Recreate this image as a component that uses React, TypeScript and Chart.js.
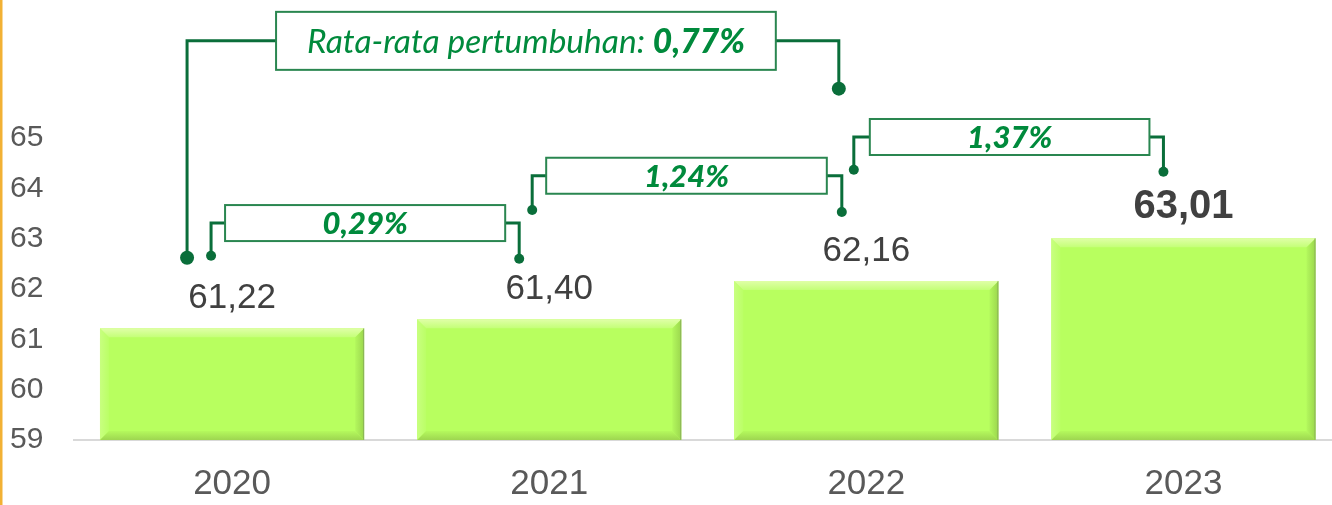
import React, { useEffect, useRef } from 'react';
import { Chart, registerables } from 'chart.js';

Chart.register(...registerables);

// ---- data ----
const years = ['2020', '2021', '2022', '2023'];
const values = [61.22, 61.4, 62.16, 63.01];
const valueLabels = ['61,22', '61,40', '62,16', '63,01'];
const yMin = 59;
const yMax = 65;
const growthLabels = ['0,29%', '1,24%', '1,37%'];
const avgGrowthText = 'Rata-rata pertumbuhan: ';
const avgGrowthValue = '0,77%';

// ---- styles ----
const GREEN_LINE = '#0A6E3A';
const GREEN_BOX = '#2A8650';
const GREEN_TEXT = '#008A3C';
const NUM_FONT = '"Liberation Sans", Arial, sans-serif';
const ANN_FONT = 'Lato, "Open Sans", sans-serif';

// annotation geometry: x as offsets from category centres, y in axis units
const pairLayout = [
  { from: 0, to: 1, dotL: -21, boxL: -7, boxR: -44, dotR: -30, boxY: 63.31, dotLY: 62.66, dotRY: 62.6 },
  { from: 1, to: 2, dotL: -17, boxL: -3, boxR: -39.5, dotR: -24.5, boxY: 64.25, dotLY: 63.57, dotRY: 63.53 },
  { from: 2, to: 3, dotL: -12.5, boxL: 3.5, boxR: -34, dotR: -20, boxY: 65.02, dotLY: 64.37, dotRY: 64.33 },
];
const avgLayout = { from: 0, to: 2, dotL: -45, boxL: 44, boxR: -90.5, dotR: -27.5, boxY: 66.93, dotLY: 62.62, dotRY: 65.98 };

function drawConnector(ctx: CanvasRenderingContext2D, x: number, yFrom: number, xBox: number, yDot: number, r: number) {
  ctx.beginPath();
  ctx.moveTo(xBox, yFrom);
  ctx.lineTo(x, yFrom);
  ctx.lineTo(x, yDot);
  ctx.stroke();
  ctx.beginPath();
  ctx.arc(x, yDot, r, 0, Math.PI * 2);
  ctx.fill();
}

const decorPlugin = {
  id: 'decor',
  beforeDraw(chart: any) {
    const ctx = chart.ctx;
    ctx.save();
    ctx.fillStyle = '#F2B134';
    ctx.fillRect(0, 0, 2.5, chart.height);
    ctx.restore();
  },
  afterDatasetsDraw(chart: any) {
    const ctx: CanvasRenderingContext2D = chart.ctx;
    const meta = chart.getDatasetMeta(0);
    const bottomLimit = chart.chartArea.bottom;
    ctx.save();
    meta.data.forEach((el: any, i: number) => {
      const { x, y, base, width } = el.getProps(['x', 'y', 'base', 'width'], true);
      const l = x - width / 2;
      const r = x + width / 2;
      const t = y;
      const b = Math.min(base, bottomLimit);
      const bv = 9;
      const poly = (pts: number[][], fill: string | CanvasGradient) => {
        ctx.beginPath();
        ctx.moveTo(pts[0][0], pts[0][1]);
        for (let k = 1; k < pts.length; k++) ctx.lineTo(pts[k][0], pts[k][1]);
        ctx.closePath();
        ctx.fillStyle = fill;
        ctx.fill();
      };
      const gl = ctx.createLinearGradient(l, 0, l + bv, 0);
      gl.addColorStop(0, '#C8FF80');
      gl.addColorStop(1, '#BBFF66');
      const gr = ctx.createLinearGradient(r, 0, r - bv, 0);
      gr.addColorStop(0, '#9BD64E');
      gr.addColorStop(1, '#B3F85D');
      const gb = ctx.createLinearGradient(0, b, 0, b - bv);
      gb.addColorStop(0, '#9ED650');
      gb.addColorStop(1, '#B4F95D');
      const gt = ctx.createLinearGradient(0, t, 0, t + bv);
      gt.addColorStop(0, '#E0FFA8');
      gt.addColorStop(1, '#C4FF78');
      poly([[l, t], [l + bv, t + bv], [l + bv, b - bv], [l, b]], gl);
      poly([[r, t], [r - bv, t + bv], [r - bv, b - bv], [r, b]], gr);
      poly([[l, b], [l + bv, b - bv], [r - bv, b - bv], [r, b]], gb);
      poly([[l, t], [r, t], [r - bv, t + bv], [l + bv, t + bv]], gt);
      ctx.strokeStyle = 'rgba(120,140,100,0.5)';
      ctx.lineWidth = 1;
      ctx.beginPath();
      ctx.moveTo(r - 0.5, t);
      ctx.lineTo(r - 0.5, b);
      ctx.stroke();

      // value label
      const bold = i === values.length - 1;
      ctx.fillStyle = '#404040';
      ctx.font = bold ? `bold 40px ${NUM_FONT}` : `35px ${NUM_FONT}`;
      ctx.textAlign = 'center';
      ctx.textBaseline = 'alphabetic';
      ctx.fillText(valueLabels[i], x, t - 20);
    });
    ctx.restore();
  },
  afterDraw(chart: any) {
    const ctx: CanvasRenderingContext2D = chart.ctx;
    const xs = chart.scales.x;
    const ys = chart.scales.y;
    const cx = (i: number) => xs.getPixelForValue(i);
    ctx.save();
    ctx.lineJoin = 'miter';

    const drawAnn = (lay: any, halfH: number, dotR: number, draw: (mx: number, my: number) => void) => {
      const xL = cx(lay.from);
      const xR = cx(lay.to);
      const bl = xL + lay.boxL;
      const br = xR + lay.boxR;
      const by = ys.getPixelForValue(lay.boxY);
      ctx.strokeStyle = GREEN_LINE;
      ctx.fillStyle = GREEN_LINE;
      ctx.lineWidth = 3;
      drawConnector(ctx, xL + lay.dotL, by, bl, ys.getPixelForValue(lay.dotLY), dotR);
      drawConnector(ctx, xR + lay.dotR, by, br, ys.getPixelForValue(lay.dotRY), dotR);
      ctx.fillStyle = '#FFFFFF';
      ctx.fillRect(bl, by - halfH, br - bl, halfH * 2);
      ctx.strokeStyle = GREEN_BOX;
      ctx.lineWidth = 2;
      ctx.strokeRect(bl, by - halfH, br - bl, halfH * 2);
      draw((bl + br) / 2, by);
    };

    pairLayout.forEach((lay, k) => {
      drawAnn(lay, 18, 5, (mx, my) => {
        ctx.fillStyle = GREEN_TEXT;
        ctx.font = `italic 900 31px ${ANN_FONT}`;
        ctx.textAlign = 'center';
        ctx.textBaseline = 'middle';
        ctx.fillText(growthLabels[k], mx, my + 1);
      });
    });

    drawAnn(avgLayout, 29, 7, (mx, my) => {
      ctx.fillStyle = GREEN_TEXT;
      const f1 = `italic 400 33.5px ${ANN_FONT}`;
      const f2 = `italic 900 33.5px ${ANN_FONT}`;
      ctx.font = f1;
      const w1 = ctx.measureText(avgGrowthText).width;
      ctx.font = f2;
      const w2 = ctx.measureText(avgGrowthValue).width;
      const start = mx - (w1 + w2) / 2;
      ctx.textAlign = 'left';
      ctx.textBaseline = 'middle';
      ctx.font = f1;
      ctx.fillText(avgGrowthText, start, my + 1);
      ctx.font = f2;
      ctx.fillText(avgGrowthValue, start + w1, my + 1);
    });
    ctx.restore();
  },
};

export default function App() {
  const ref = useRef<HTMLCanvasElement | null>(null);
  useEffect(() => {
    if (!ref.current) return;
    const chart = new Chart(ref.current, {
      type: 'bar',
      data: {
        labels: years,
        datasets: [
          {
            data: values,
            backgroundColor: '#B8FF5F',
            borderWidth: 0,
            barPercentage: 0.833,
            categoryPercentage: 1,
          },
        ],
      },
      options: {
        responsive: false,
        animation: false,
        devicePixelRatio: 1,
        layout: { padding: { top: 138, left: 10, right: 0, bottom: 0 } },
        plugins: { legend: { display: false }, tooltip: { enabled: false } },
        scales: {
          x: {
            grid: { display: false, drawTicks: false },
            border: { display: true, color: '#D9D9D9', width: 2 },
            ticks: { color: '#595959', font: { family: NUM_FONT, size: 35 }, padding: 23 },
            afterFit: (s: any) => {
              s.height = 65;
            },
          },
          y: {
            min: yMin,
            max: yMax,
            grid: { display: false, drawTicks: false },
            border: { display: false },
            ticks: {
              stepSize: 1,
              color: '#595959',
              crossAlign: 'far',
              font: { family: NUM_FONT, size: 30 },
            },
            afterFit: (s: any) => {
              s.width = 63.5;
            },
          },
        },
      },
      plugins: [decorPlugin],
    } as any);
    return () => chart.destroy();
  }, []);
  return (
    <div style={{ position: 'absolute', left: 0, top: 0, width: 1332, height: 505, overflow: 'hidden', background: '#fff' }}>
      <canvas ref={ref} width={1342} height={505} />
    </div>
  );
}
